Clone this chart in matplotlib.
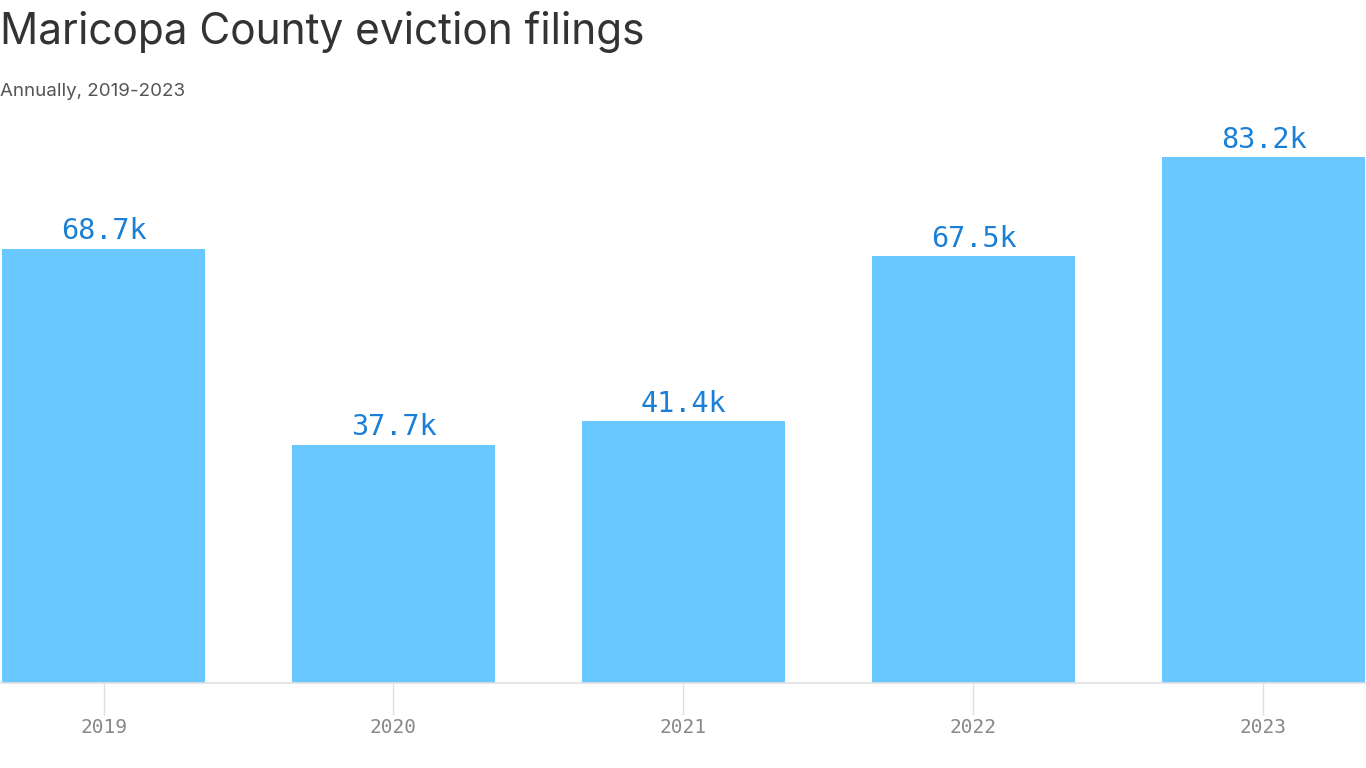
import matplotlib
matplotlib.use("Agg")
import matplotlib.pyplot as plt

years = ["2019", "2020", "2021", "2022", "2023"]
filings_k = [68.7, 37.7, 41.4, 67.5, 83.2]
value_labels = ["68.7k", "37.7k", "41.4k", "67.5k", "83.2k"]

fig = plt.figure(figsize=(13.66, 7.68), dpi=100)
ax = fig.add_axes([0, 1 - 683/768, 1, (683 - 120)/768])

x = list(range(len(years)))
ax.bar(x, filings_k, width=0.7, color="#69c8ff", zorder=2)
ax.set_xlim(-103.5/290, (1366 - 103.5)/290)
ax.set_ylim(0, (683 - 120)/6.32)

for xi, v, lab in zip(x, filings_k, value_labels):
    ax.annotate(lab, (xi, v), xytext=(0, 2.5), textcoords="offset points",
                ha="center", va="bottom", fontsize=20.5,
                family="DejaVu Sans Mono", color="#1a7fd6")

for s in ["top", "right", "left"]:
    ax.spines[s].set_visible(False)
ax.spines["bottom"].set_color("#e0e0e0")
ax.spines["bottom"].set_linewidth(1.2)
ax.set_yticks([])
ax.set_xticks(x)
ax.set_xticklabels(years, family="DejaVu Sans Mono", fontsize=14, color="#888888")
ax.tick_params(axis="x", length=23, width=1, color="#e0e0e0", pad=2)

fig.text(0.0, 1 - 44/768, "Maricopa County eviction filings", fontsize=30.5,
         family="Inter", color="#333333", ha="left", va="baseline")
fig.text(0.0, 1 - 96/768, "Annually, 2019-2023", fontsize=13.5,
         family="Inter", color="#555555", ha="left", va="baseline")

fig.savefig("out.png", dpi=100)
